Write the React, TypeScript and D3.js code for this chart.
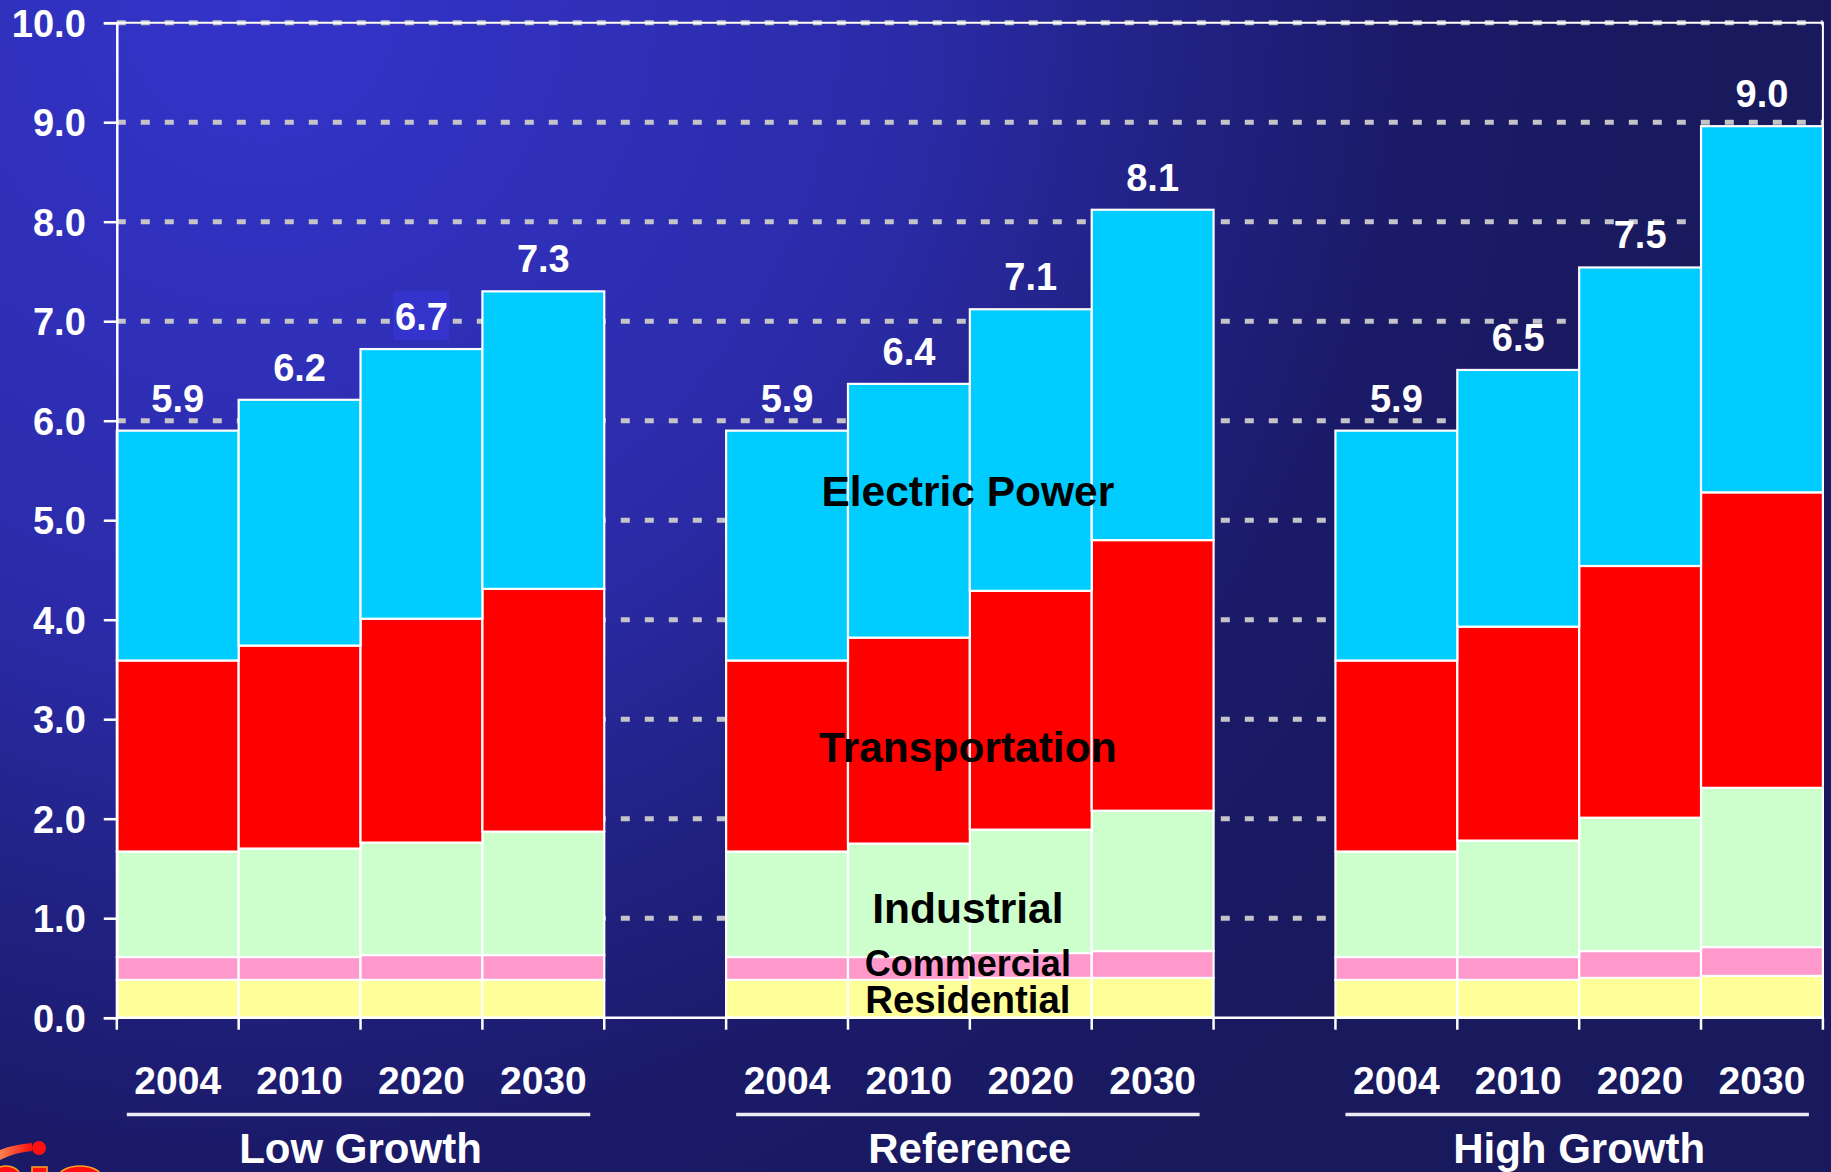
import React, { useEffect, useRef } from 'react';
import * as d3 from 'd3';

const groups = ['Low Growth', 'Reference', 'High Growth'];
const years = ['2004', '2010', '2020', '2030'];
const sectors = ['Residential', 'Commercial', 'Industrial', 'Transportation', 'Electric Power'];

// one value per bar: Low 2004..2030, Reference 2004..2030, High 2004..2030
const residential = [0.38, 0.38, 0.38, 0.38, 0.38, 0.38, 0.4, 0.4, 0.38, 0.38, 0.4, 0.42];
const commercial = [0.23, 0.23, 0.25, 0.25, 0.23, 0.23, 0.25, 0.27, 0.23, 0.23, 0.27, 0.29];
const industrial = [1.06, 1.09, 1.13, 1.24, 1.06, 1.14, 1.24, 1.41, 1.06, 1.17, 1.34, 1.6];
const transportation = [1.92, 2.04, 2.25, 2.44, 1.92, 2.07, 2.4, 2.72, 1.92, 2.15, 2.53, 2.97];
const electricPower = [2.31, 2.47, 2.71, 2.99, 2.31, 2.55, 2.83, 3.32, 2.31, 2.58, 3.0, 3.68];
const totalLabels = ['5.9', '6.2', '6.7', '7.3', '5.9', '6.4', '7.1', '8.1', '5.9', '6.5', '7.5', '9.0'];
const yTicks = [0, 1, 2, 3, 4, 5, 6, 7, 8, 9, 10];

const colors = ['#FFFF99', '#FF99CC', '#CCFFCC', '#FF0000', '#00CCFF'];
const FONT = '"Liberation Sans", Arial, Helvetica, sans-serif';

const App = () => {
  const svgRef = useRef(null);
  const width = 1831;
  const height = 1172;

  useEffect(() => {
    const svg = d3.select(svgRef.current);
    svg.selectAll('*').remove();

    const left = 116.8;
    const right = 1822.9;
    const top = 22.7;
    const bottom = 1017.7;

    // background
    const defs = svg.append('defs');
    const bg = defs
      .append('radialGradient')
      .attr('id', 'bg')
      .attr('gradientUnits', 'userSpaceOnUse')
      .attr('cx', 260)
      .attr('cy', 0)
      .attr('r', 1450);
    [
      [0, '#3434CA'],
      [0.15, '#3131C0'],
      [0.45, '#2B2BA8'],
      [0.62, '#222286'],
      [0.8, '#1B1A68'],
      [1, '#19195E']
    ].forEach(([o, c]) => bg.append('stop').attr('offset', o).attr('stop-color', c));
    svg.append('rect').attr('width', width).attr('height', height).attr('fill', 'url(#bg)');

    // slots: 4 bars per group, one empty slot between groups
    const slots = [];
    groups.forEach((g, gi) => {
      years.forEach(y => slots.push(g + '|' + y));
      if (gi < groups.length - 1) slots.push('gap' + gi);
    });
    const xScale = d3.scaleBand().domain(slots).range([left, right]).padding(0);
    const bw = xScale.bandwidth();

    const yScale = d3.scaleLinear().domain([0, 10]).range([bottom, top]);

    // rows for the stack
    const rows = [];
    groups.forEach((g, gi) => {
      years.forEach((y, yi) => {
        const i = gi * years.length + yi;
        rows.push({
          key: g + '|' + y,
          year: y,
          label: totalLabels[i],
          Residential: residential[i],
          Commercial: commercial[i],
          Industrial: industrial[i],
          Transportation: transportation[i],
          'Electric Power': electricPower[i]
        });
      });
    });
    const series = d3.stack().keys(sectors)(rows);

    // gridlines
    svg
      .append('g')
      .selectAll('line')
      .data(yTicks.filter(t => t > 0))
      .join('line')
      .attr('x1', left)
      .attr('x2', right)
      .attr('y1', d => yScale(d))
      .attr('y2', d => yScale(d))
      .attr('stroke', '#C4C4C8')
      .attr('stroke-width', 5)
      .attr('stroke-dasharray', '9 15');

    // frame top / right
    svg
      .append('path')
      .attr('d', `M${left},${top}H${right}V${bottom}`)
      .attr('fill', 'none')
      .attr('stroke', '#ffffff')
      .attr('stroke-width', 2);

    // bars
    svg
      .append('g')
      .selectAll('g')
      .data(series)
      .join('g')
      .attr('fill', (d, i) => colors[i])
      .selectAll('rect')
      .data(d => d)
      .join('rect')
      .attr('x', d => xScale(d.data.key))
      .attr('width', bw)
      .attr('y', d => yScale(d[1]))
      .attr('height', d => yScale(d[0]) - yScale(d[1]))
      .attr('stroke', '#ffffff')
      .attr('stroke-width', 2.2);

    // axes
    const yAxis = svg
      .append('g')
      .attr('transform', `translate(${left},0)`)
      .call(d3.axisLeft(yScale).tickValues(yTicks).tickFormat(d3.format('.1f')).tickSize(13).tickPadding(18));
    yAxis.select('.domain').attr('stroke', '#ffffff').attr('stroke-width', 2.5);
    yAxis.selectAll('.tick line').attr('stroke', '#ffffff').attr('stroke-width', 2.5);
    yAxis
      .selectAll('.tick text')
      .attr('fill', '#ffffff')
      .attr('font-family', FONT)
      .attr('font-weight', 'bold')
      .attr('font-size', 38)
      .attr('dy', '0.36em');

    const tickXs = d3.range(slots.length + 1).map(i => left + i * bw);
    svg
      .append('line')
      .attr('x1', left)
      .attr('x2', right)
      .attr('y1', bottom)
      .attr('y2', bottom)
      .attr('stroke', '#ffffff')
      .attr('stroke-width', 2.5);
    svg
      .append('g')
      .selectAll('line')
      .data(tickXs)
      .join('line')
      .attr('x1', d => d)
      .attr('x2', d => d)
      .attr('y1', bottom)
      .attr('y2', bottom + 12)
      .attr('stroke', '#ffffff')
      .attr('stroke-width', 2.5);

    // year labels
    svg
      .append('g')
      .selectAll('text')
      .data(rows)
      .join('text')
      .attr('x', d => xScale(d.key) + bw / 2)
      .attr('y', 1094)
      .attr('text-anchor', 'middle')
      .attr('fill', '#ffffff')
      .attr('font-family', FONT)
      .attr('font-weight', 'bold')
      .attr('font-size', 39)
      .text(d => d.year);

    // group underline + names
    groups.forEach(g => {
      const x0 = xScale(g + '|' + years[0]);
      const x1 = xScale(g + '|' + years[years.length - 1]) + bw;
      svg
        .append('line')
        .attr('x1', x0 + 10)
        .attr('x2', x1 - 14)
        .attr('y1', 1114.5)
        .attr('y2', 1114.5)
        .attr('stroke', '#ECECF4')
        .attr('stroke-width', 3.6);
      svg
        .append('text')
        .attr('x', (x0 + x1) / 2)
        .attr('y', 1163)
        .attr('text-anchor', 'middle')
        .attr('fill', '#ffffff')
        .attr('font-family', FONT)
        .attr('font-weight', 'bold')
        .attr('font-size', 42)
        .text(g);
    });

    // total labels
    const totals = rows.map(r => ({ key: r.key, label: r.label, sum: d3.sum(sectors, s => r[s]) }));
    // highlighted box behind the 6.7 label in the original slide
    const hl = totals[2];
    svg
      .append('rect')
      .attr('x', xScale(hl.key) + bw / 2 - 28)
      .attr('y', yScale(hl.sum) - 19 - 39)
      .attr('width', 56)
      .attr('height', 49)
      .attr('fill', '#3434CC');
    svg
      .append('g')
      .selectAll('text')
      .data(totals)
      .join('text')
      .attr('x', d => xScale(d.key) + bw / 2)
      .attr('y', d => yScale(d.sum) - 19)
      .attr('text-anchor', 'middle')
      .attr('fill', '#ffffff')
      .attr('font-family', FONT)
      .attr('font-weight', 'bold')
      .attr('font-size', 38)
      .text(d => d.label);

    // sector labels over the Reference group
    const labelAt = [0.047, 0.415, 0.955, 2.57, 5.14];
    const labelSize = [38.5, 36, 42.5, 42.5, 42.5];
    const refCenter = xScale('Reference|2010') + bw;
    svg
      .append('g')
      .selectAll('text')
      .data(sectors)
      .join('text')
      .attr('x', refCenter - 2)
      .attr('y', (d, i) => yScale(labelAt[i]))
      .attr('text-anchor', 'middle')
      .attr('fill', '#000000')
      .attr('font-family', FONT)
      .attr('font-weight', 'bold')
      .attr('font-size', (d, i) => labelSize[i])
      .text(d => d);

    // partial logo in lower-left corner
    const logoGrad = defs
      .append('linearGradient')
      .attr('id', 'swoosh')
      .attr('x1', 0)
      .attr('x2', 1);
    logoGrad.append('stop').attr('offset', 0).attr('stop-color', '#FF8050');
    logoGrad.append('stop').attr('offset', 1).attr('stop-color', '#FF1010');
    svg
      .append('path')
      .attr('d', 'M0,1150 C10,1146 20,1144 32,1143 L32,1151 C20,1152 10,1155 0,1160 Z')
      .attr('fill', 'url(#swoosh)');
    svg.append('circle').attr('cx', 39).attr('cy', 1148).attr('r', 7).attr('fill', '#FF1010');
    const logo = svg.append('g').attr('fill', '#FF1010').attr('stroke', '#FFA020').attr('stroke-width', 1.5);
    logo.append('ellipse').attr('cx', 6).attr('cy', 1176).attr('rx', 14).attr('ry', 10);
    logo.append('rect').attr('x', 32).attr('y', 1167).attr('width', 15).attr('height', 10);
    logo.append('ellipse').attr('cx', 80).attr('cy', 1178).attr('rx', 22).attr('ry', 12);
  }, []);

  return (
    <svg
      ref={svgRef}
      width={width}
      height={height}
      style={{ position: 'absolute', left: 0, top: 0, display: 'block' }}
    ></svg>
  );
};

export default App;
